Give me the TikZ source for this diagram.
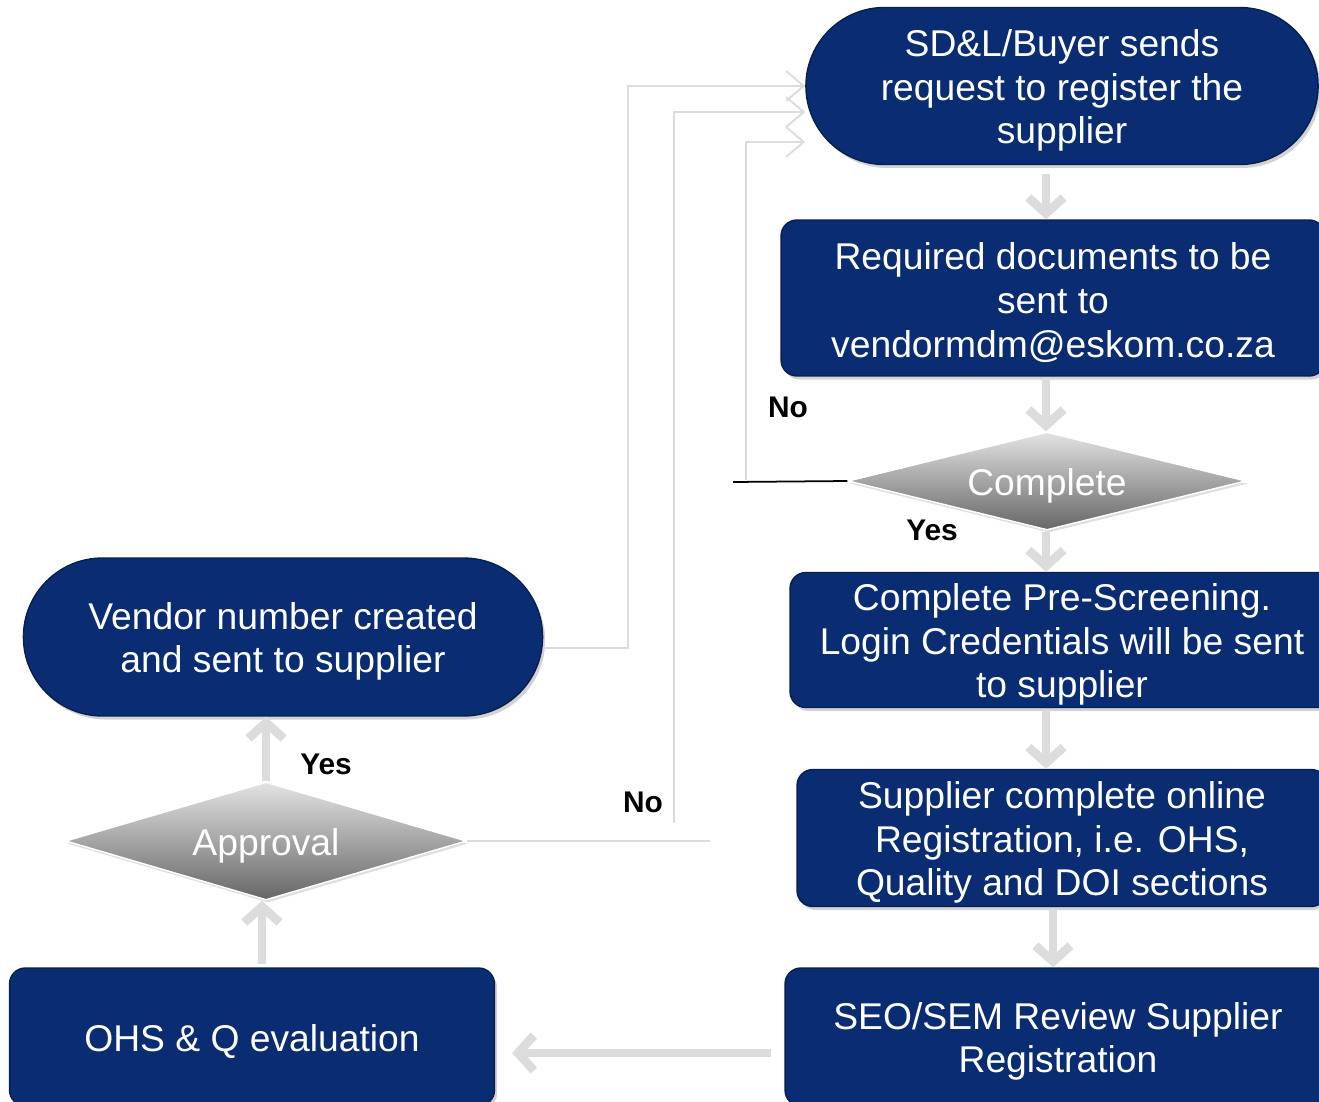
\documentclass[tikz,border=0pt]{standalone}
\usepackage{fontspec}
\setmainfont{Liberation Sans}
\usetikzlibrary{shapes.geometric,shapes.misc,arrows.meta,shadows}

\definecolor{eskblue}{RGB}{10,44,114}
\definecolor{flowgray}{RGB}{220,220,220}
\newcommand{\txtlift}{\rule{0pt}{0.96em}}

\tikzset{
  boxfont/.style={font=\fontsize{21.2}{25}\selectfont},
  procbox/.style={rectangle, rounded corners=9pt, fill=eskblue, draw=eskblue!70!black,
    line width=0.8pt, text=white, align=center, boxfont, inner ysep=1pt,
    drop shadow={shadow xshift=1.5pt, shadow yshift=-2pt, opacity=0.35}},
  termbox/.style={rounded rectangle, fill=eskblue, draw=eskblue!70!black,
    line width=0.8pt, text=white, align=center, boxfont, inner ysep=1pt,
    drop shadow={shadow xshift=1.5pt, shadow yshift=-2pt, opacity=0.35}},
  decbox/.style={diamond, aspect=3.4, inner sep=0pt, top color=gray!22,
    bottom color=gray!80!black, draw=white, line width=0.8pt, text=white, boxfont,
    drop shadow={shadow xshift=1pt, shadow yshift=-1.5pt, opacity=0.25}},
  flowarrow/.style={flowgray, line width=5pt, -{Straight Barb[length=9pt,width=20pt]}},
  backline/.style={flowgray, line width=1.1pt, -{Straight Barb[length=10pt,width=17pt]}},
  answer/.style={font=\fontsize{17}{20}\selectfont\bfseries}
}

\begin{document}
\begin{tikzpicture}[x=0.02cm, y=-0.02cm]
  \useasboundingbox (0,0) rectangle (1319,1102);

  % right column
  \node[termbox, minimum width=10.48cm, minimum height=3.14cm] (reqnode) at (1062,86)
    {\txtlift SD\&L/Buyer sends\\request to register the\\supplier};
  \node[procbox, minimum width=10.88cm, minimum height=3.12cm] (docnode) at (1053,298)
    {\txtlift Required documents to be\\sent to\\vendormdm@eskom.co.za};
  \node[decbox, minimum width=7.96cm, minimum height=1.96cm] (chknode) at (1047,481)
    {\txtlift Complete};
  \node[procbox, minimum width=10.88cm, minimum height=2.7cm] (prenode) at (1062,640)
    {\txtlift Complete Pre-Screening.\\Login Credentials will be sent\\to supplier};
  \node[procbox, minimum width=10.6cm, minimum height=2.74cm] (suppnode) at (1062,838)
    {\txtlift Supplier complete online\\Registration, i.e. OHS,\\Quality and DOI sections};
  \node[procbox, minimum width=10.92cm, minimum height=2.76cm] (seonode) at (1058,1037)
    {\txtlift SEO/SEM Review Supplier\\Registration};

  % left column
  \node[procbox, minimum width=9.7cm, minimum height=2.76cm] (ohsnode) at (252,1037)
    {\txtlift OHS \& Q evaluation};
  \node[decbox, minimum width=8.02cm, minimum height=2.36cm] (apprnode) at (266,841)
    {\txtlift Approval};
  \node[termbox, minimum width=10.62cm, minimum height=3.16cm] (vendnode) at (283,637)
    {\txtlift Vendor number created\\and sent to supplier};

  % main flow
  \coordinate (rcol) at (1046,0);
  \draw[flowarrow, shorten <=5pt] (reqnode.south -| rcol) -- (docnode.north -| rcol);
  \draw[flowarrow, shorten <=1pt] (docnode.south -| rcol) -- (chknode.north -| rcol);
  \draw[flowarrow, shorten <=1pt] (chknode.south -| rcol) -- (prenode.north -| rcol);
  \draw[flowarrow, shorten <=1pt] (prenode.south -| rcol) -- (suppnode.north -| rcol);
  \draw[flowarrow, shorten <=1pt] (suppnode.south -| 1053,0) -- (seonode.north -| 1053,0);
  \draw[flowarrow, shorten <=0.26cm, shorten >=0.34cm]
    ([yshift=-0.32cm]seonode.west) -- ([yshift=-0.32cm]ohsnode.east);
  \draw[flowarrow, shorten <=2pt] (ohsnode.north -| 262,0) -- (apprnode.south -| 262,0);
  \draw[flowarrow] (apprnode.north) -- (vendnode.south -| apprnode.north);

  % loops back to the request
  \coordinate (noA) at (733,482);
  \draw[black, line width=1pt] (chknode.west) -- (noA);
  \draw[backline] (746,480) |- ([yshift=-1.12cm]reqnode.west);

  \coordinate (noB) at (710,841);
  \coordinate (upB) at (674,823);
  \draw[flowgray, line width=1.1pt] (apprnode.east) -- (noB);
  \draw[backline] (upB) |- ([yshift=-0.52cm]reqnode.west);

  \coordinate (upC) at (628,0);
  \draw[backline] ([yshift=-0.22cm]vendnode.east) -| (upC |- reqnode.west) -- (reqnode.west);

  % answers
  \node[answer] (noone) at (788,407) {No};
  \node[answer] (yesone) at (932,530) {Yes};
  \node[answer] (notwo) at (643,802) {No};
  \node[answer] (yestwo) at (326,764) {Yes};
\end{tikzpicture}
\end{document}
